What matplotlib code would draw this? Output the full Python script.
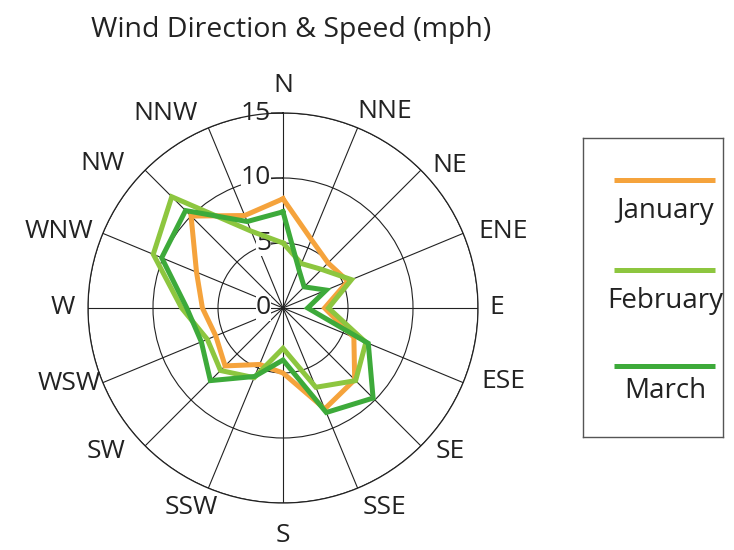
import matplotlib.pyplot as plt
import numpy as np

# Data
directions = ['N', 'NNE', 'NE', 'ENE', 'E', 'ESE', 'SE', 'SSE',
              'S', 'SSW', 'SW', 'WSW', 'W', 'WNW', 'NW', 'NNW']
january = [8.4, 5.7, 4.9, 5.4, 3.2, 5.9, 7.8, 8.4, 5.0, 4.7, 6.3, 5.6, 6.2, 7.2, 10.0, 7.7]
february = [5.0, 3.7, 4.2, 5.7, 3.5, 6.9, 7.9, 6.6, 3.1, 5.8, 6.8, 6.3, 7.8, 10.8, 12.1, 6.4]
march = [7.4, 3.2, 2.3, 3.6, 1.9, 7.1, 9.8, 8.7, 4.0, 5.7, 7.9, 6.8, 7.4, 10.1, 10.6, 7.2]
months = ['January', 'February', 'March']
colors = ['#F5A33C', '#8DC63F', '#3DAA3A']
radial_ticks = [0, 5, 10, 15]

# label centres, pixels from the plot centre (x right, y up)
label_offsets = [(0, 223), (102, 196), (167, 143), (220, 76), (214, 0), (220, -74),
                 (167, -144), (102, -200), (0, -227), (-92, -200), (-177, -144),
                 (-214, -75), (-220, 0), (-224, 76), (-180, 145), (-117, 195)]

plt.rcParams['font.family'] = ['Open Sans', 'DejaVu Sans']
ink = '#222222'

fig = plt.figure(figsize=(7.34, 5.5), dpi=100)
ax = fig.add_axes([88 / 734, 47 / 550, 390 / 734, 390 / 550], projection='polar')
ax.set_theta_zero_location('N')
ax.set_theta_direction(-1)

angles = np.deg2rad(np.arange(len(directions)) * 22.5)

# Grid: spokes and rings
ax.set_xticks(angles)
ax.set_xticklabels([])
ax.set_yticks(radial_ticks[1:])
ax.set_yticklabels([])
ax.set_ylim(0, 15)
ax.grid(True, color=ink, lw=0.8)
ax.spines['polar'].set_color(ink)
ax.spines['polar'].set_linewidth(0.9)
ax.tick_params(length=0)

# Series (closed polygons), drawn Jan, Mar, Feb so light green sits on top
series = [january, february, march]
for idx in [0, 2, 1]:
    vals = np.append(series[idx], series[idx][0])
    ax.plot(np.append(angles, angles[0]), vals, color=colors[idx], lw=3.6,
            solid_joinstyle='miter', zorder=3 + idx)

# Radial tick labels along the N spoke (above the grid, below the lines)
for v in radial_ticks:
    ax.annotate(str(v), xy=(0, v), xytext=(-12, 0), textcoords='offset pixels',
                ha='right', va='center', fontsize=19, color=ink,
                bbox=dict(facecolor='white', edgecolor='none', pad=0),
                arrowprops=dict(arrowstyle='-', lw=0.8, color=ink,
                                shrinkA=0, shrinkB=0) if v > 0 else None,
                zorder=2.5, annotation_clip=False)

# Direction labels
for lab, (dx, dy) in zip(directions, label_offsets):
    ax.text(0.5 + dx / 390, 0.5 + dy / 390, lab, transform=ax.transAxes,
            ha='center', va='center', fontsize=19, color=ink, clip_on=False)

fig.text(291 / 734, 1 - 30 / 550, 'Wind Direction & Speed (mph)', ha='center',
         va='center', fontsize=20.5, color=ink)

# Legend box
lax = fig.add_axes([583 / 734, 1 - 437 / 550, 140 / 734, 299 / 550])
lax.set_xlim(0, 1)
lax.set_ylim(0, 1)
lax.set_xticks([])
lax.set_yticks([])
for sp in lax.spines.values():
    sp.set_color('#555555')
    sp.set_linewidth(1.0)
line_y = [0.86, 0.56, 0.237]
text_y = [0.755, 0.455, 0.155]
for name, c, y, ty in zip(months, colors, line_y, text_y):
    lax.plot([0.22, 0.94], [y, y], color=c, lw=3.6, solid_capstyle='butt')
    lax.text(0.585, ty, name, ha='center', va='center', fontsize=20, color=ink)

fig.savefig('out.png', dpi=100)
